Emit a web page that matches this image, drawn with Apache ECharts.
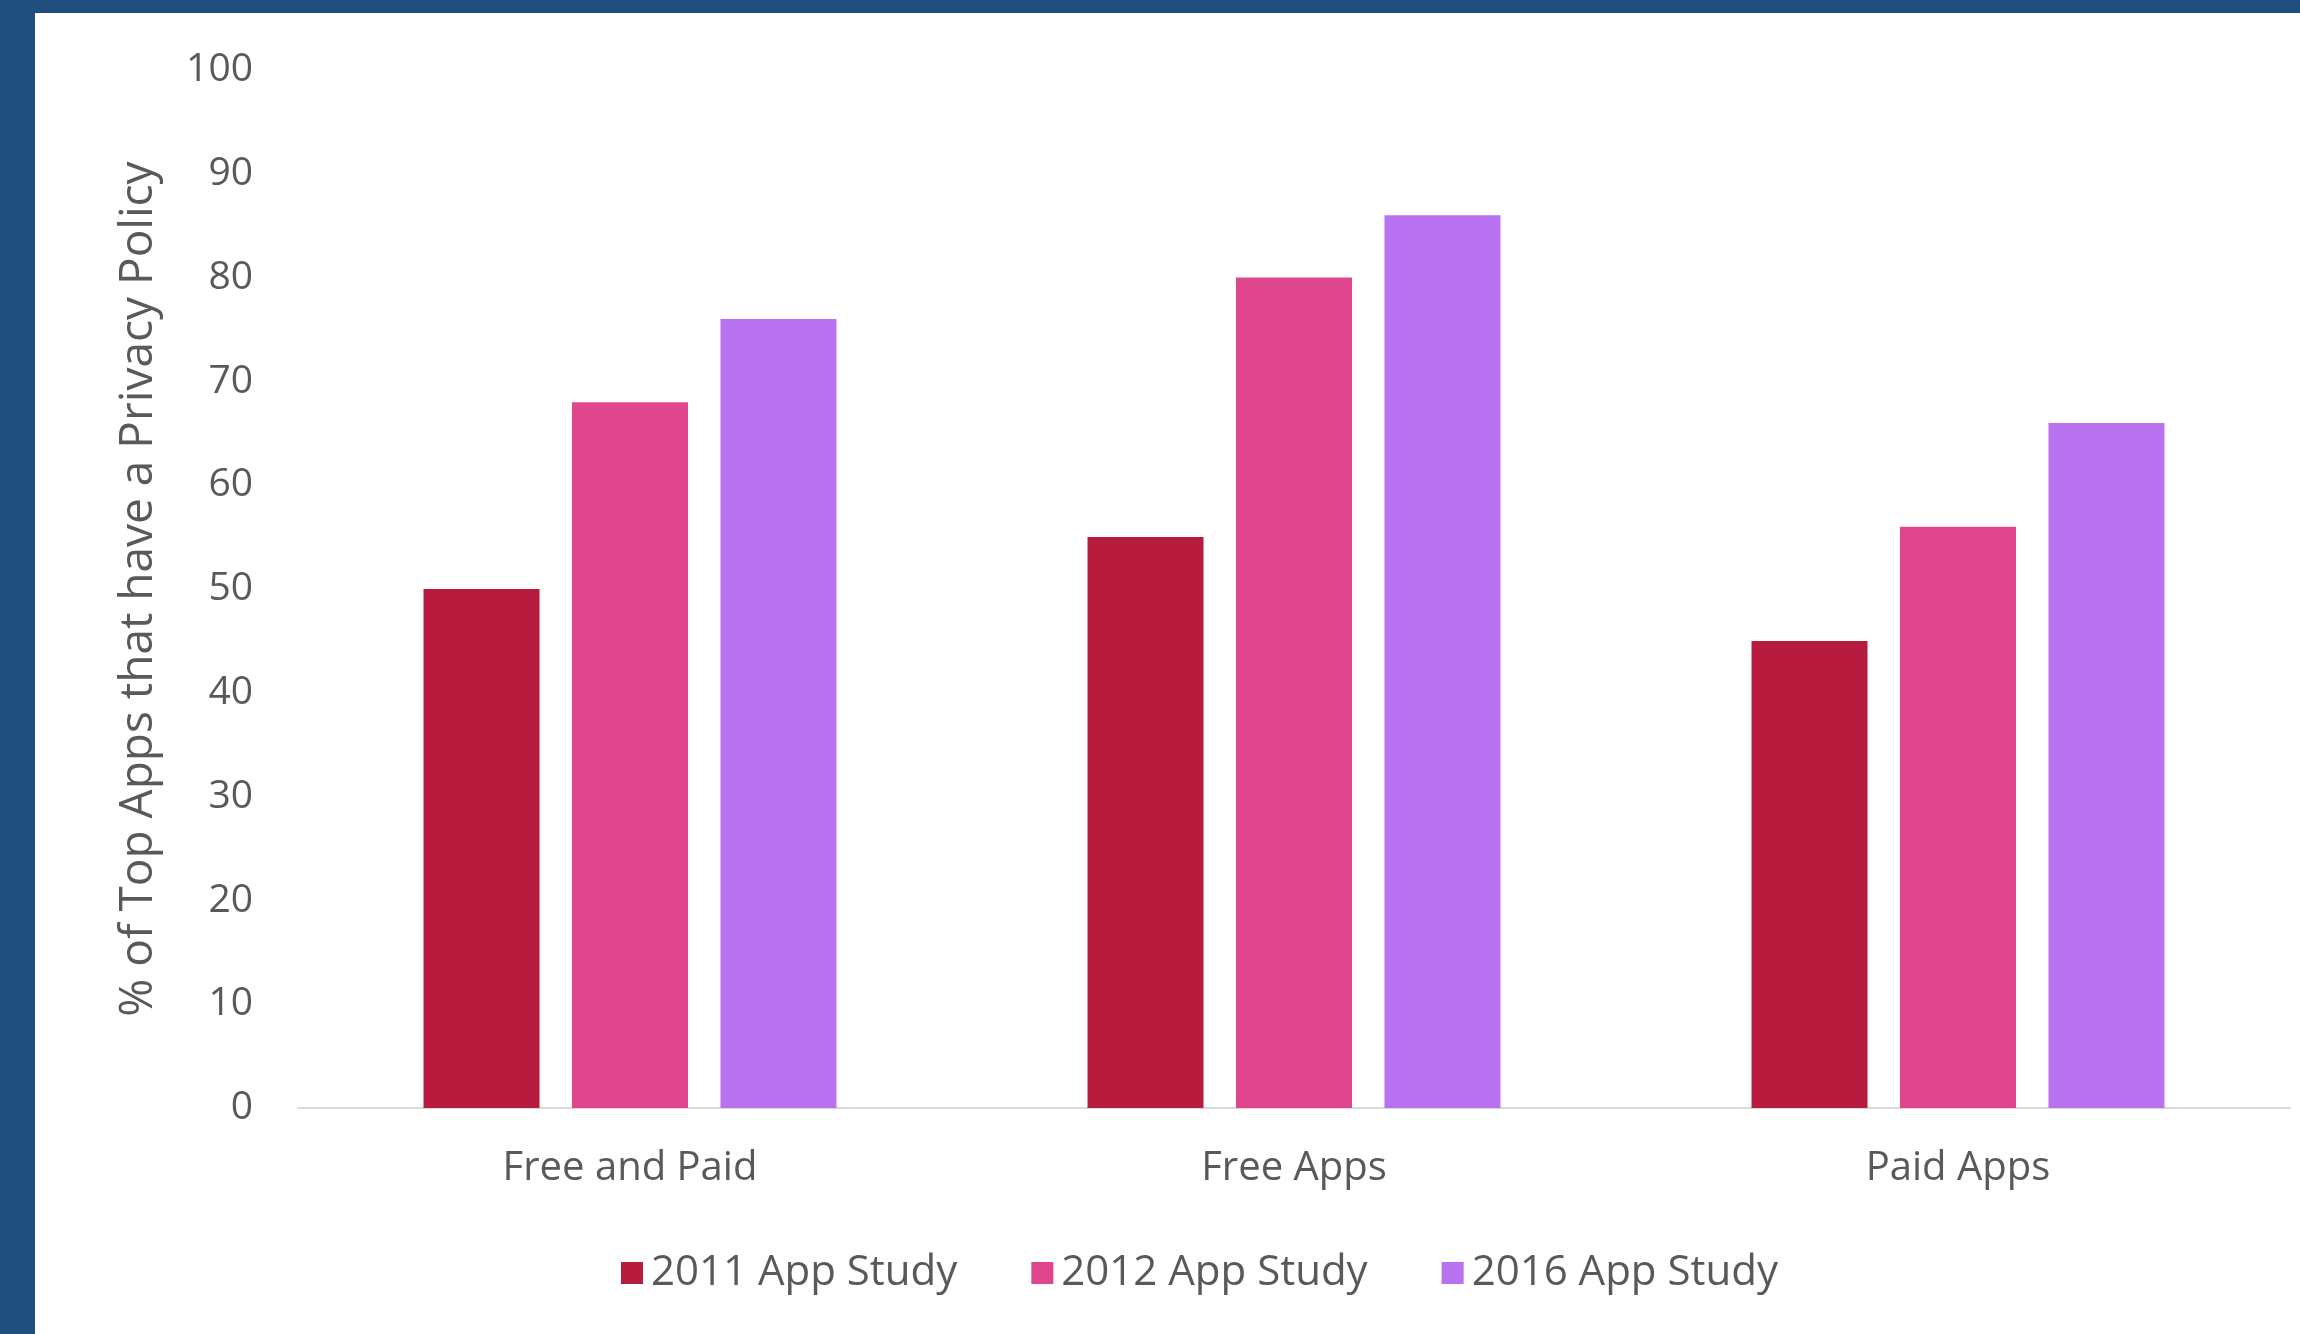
<!DOCTYPE html>
<html lang="en">
<head>
    <meta charset="UTF-8">
    <title>Privacy Policy Bar Chart</title>
    <script src="https://cdn.jsdelivr.net/npm/echarts@6/dist/echarts.min.js"></script>
    <style>
        html, body {
            margin: 0;
            padding: 0;
            width: 2300px;
            height: 1334px;
            overflow: hidden;
            background: #ffffff;
        }
        .frame {
            position: absolute;
            left: 0;
            top: 0;
            width: 2300px;
            height: 1334px;
            box-sizing: border-box;
            border-left: 35px solid #1F4E7C;
            border-top: 13px solid #1F4E7C;
        }
        #chart {
            position: absolute;
            left: 0;
            top: 0;
            width: 2300px;
            height: 1334px;
        }
    </style>
</head>
<body>
    <div class="frame"></div>
    <div id="chart"></div>

<script>
    // data
    const categories = ['Free and Paid', 'Free Apps', 'Paid Apps'];
    const study2011 = [50, 55, 45];
    const study2012 = [68, 80, 56];
    const study2016 = [76, 86, 66];
    const seriesNames = ['2011 App Study', '2012 App Study', '2016 App Study'];
    const seriesColors = ['#B71C3F', '#DF468E', '#B972EF'];

    const textColor = '#595959';
    const fontFamily = '"Open Sans", Lato, sans-serif';

    const chart = echarts.init(document.getElementById('chart'), null, { renderer: 'canvas' });

    const values = [study2011, study2012, study2016];
    const series = values.map((data, i) => ({
        name: seriesNames[i],
        type: 'bar',
        data: data,
        barWidth: 116,
        barGap: '28%',
        itemStyle: { color: seriesColors[i] }
    }));

    chart.setOption({
        animation: false,
        backgroundColor: 'transparent',
        textStyle: { fontFamily: fontFamily, color: textColor },
        grid: { left: 298, right: 10, top: 70, bottom: 226, containLabel: false },
        legend: {
            data: seriesNames,
            left: 616,
            top: 1247,
            icon: 'rect',
            itemWidth: 22,
            itemHeight: 22,
            itemGap: 74,
            textStyle: { fontSize: 42, color: textColor, fontFamily: fontFamily, padding: [0, 0, 0, 3] }
        },
        xAxis: {
            type: 'category',
            data: categories,
            axisTick: { show: false },
            axisLine: { lineStyle: { color: '#D9D9D9', width: 2 } },
            axisLabel: { fontSize: 40, color: textColor, margin: 41, fontFamily: fontFamily }
        },
        yAxis: {
            type: 'value',
            min: 0,
            max: 100,
            interval: 10,
            name: '% of Top Apps that have a Privacy Policy',
            nameLocation: 'middle',
            nameGap: 136,
            nameTextStyle: { fontSize: 46, color: textColor, fontFamily: fontFamily },
            axisLine: { show: false },
            axisTick: { show: false },
            splitLine: { show: false },
            axisLabel: { fontSize: 39, color: textColor, margin: 45, fontFamily: fontFamily }
        },
        series: series
    });
</script>
</body>
</html>
